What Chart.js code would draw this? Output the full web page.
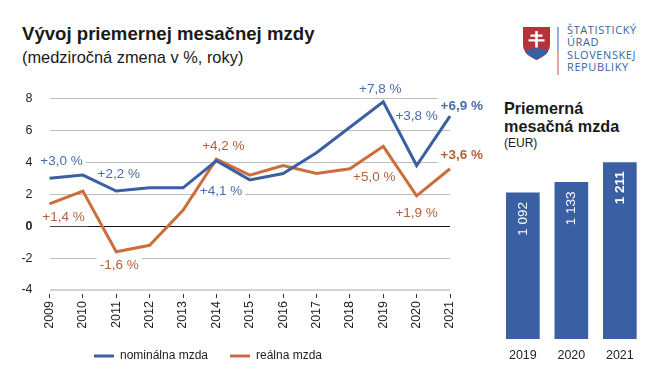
<!DOCTYPE html>
<html lang="sk">
<head>
<meta charset="utf-8">
<title>Vývoj priemernej mesačnej mzdy</title>
<script src="https://cdn.jsdelivr.net/npm/chart.js@4"></script>
<style>
    html, body { margin: 0; padding: 0; background: #fff; }
    body { width: 660px; height: 381px; position: relative; overflow: hidden; font-family: "Liberation Sans", Arial, sans-serif; color: #1a1a1a; }
    canvas { position: absolute; }
    #lineChart { left: 0; top: 80px; }
    #barChart { left: 490px; top: 150px; }
    .txt { position: absolute; white-space: nowrap; }
    #title { left: 22px; top: 23px; font-size: 18.6px; font-weight: bold; }
    #subtitle { left: 22px; top: 48px; font-size: 16.4px; }
    #barTitle { left: 504px; top: 99px; font-size: 16.2px; font-weight: bold; line-height: 18px; }
    #barUnit { left: 504px; top: 136px; font-size: 12px; }
    #logoText { left: 567px; top: 24px; font-family: "Open Sans", sans-serif; font-size: 11px; line-height: 12.4px; letter-spacing: 0.6px; color: #3b5f9f; }
    #logo { position: absolute; left: 522px; top: 26px; }
</style>
</head>
<body>
<div class="txt" id="title">Vývoj priemernej mesačnej mzdy</div>
<div class="txt" id="subtitle">(medziročná zmena v %, roky)</div>
<svg id="logo" width="40" height="52" viewBox="0 0 40 52">
    <path d="M1 1H28V19C28 27 20 31 14.5 34C9 31 1 27 1 19Z" fill="#b8303a"/>
    <path d="M3 26C5 23 8 22 10 23.5C12 20.5 17 20.5 19 23.5C21 22 24 23 26 26C23 30 18 32 14.5 34C11 32 6 30 3 26Z" fill="#3b5f9f"/>
    <path d="M13.2 5H15.8V8.5H20.5V10.8H15.8V13.2H22.5V15.6H15.8V21.5H13.2V15.6H6.5V13.2H13.2V10.8H8.5V8.5H13.2Z" fill="#fff"/>
    <rect x="35.5" y="1" width="1" height="24" fill="#3b5f9f"/>
    <rect x="35.5" y="25" width="1" height="24" fill="#c0504d"/>
</svg>
<div class="txt" id="logoText">ŠTATISTICKÝ<br>ÚRAD<br>SLOVENSKEJ<br>REPUBLIKY</div>
<div class="txt" id="barTitle">Priemerná<br>mesačná mzda</div>
<div class="txt" id="barUnit">(EUR)</div>
<canvas id="lineChart" width="490" height="296"></canvas>
<canvas id="barChart" width="170" height="220"></canvas>
<script>
const years = ["2009", "2010", "2011", "2012", "2013", "2014", "2015", "2016", "2017", "2018", "2019", "2020", "2021"];
const nominal = [3.0, 3.2, 2.2, 2.4, 2.4, 4.1, 2.9, 3.3, 4.6, 6.2, 7.8, 3.8, 6.9];
const real = [1.4, 2.2, -1.6, -1.2, 1.0, 4.2, 3.2, 3.8, 3.3, 3.6, 5.0, 1.9, 3.6];
const yTicks = [-4, -2, 0, 2, 4, 6, 8];

const barYears = ["2019", "2020", "2021"];
const barValues = [1092, 1133, 1211];
const barLabels = ["1 092", "1 133", "1 211"];

const BLUE = "#3a5fa3";
const ORANGE = "#cc6e3c";
const BLUE_TEXT = "#4a6ca8";
const ORANGE_TEXT = "#b4603c";
const FONT = '"Liberation Sans", Arial, sans-serif';

// dataset, year index, text, offset from the point, bold
const pointLabels = [
    [0, 0, "+3,0 %", 12, -17.5],
    [0, 2, "+2,2 %", 2.5, -16.3],
    [0, 5, "+4,1 %", 4.6, 31],
    [0, 10, "+7,8 %", -3, -12.6],
    [0, 11, "+3,8 %", 0, -49.3],
    [0, 12, "+6,9 %", 11.7, -10, true],
    [1, 0, "+1,4 %", 14, 13.4],
    [1, 2, "-1,6 %", 3, 14],
    [1, 5, "+4,2 %", 7, -13],
    [1, 10, "+5,0 %", -9, 31],
    [1, 11, "+1,9 %", 0, 17],
    [1, 12, "+3,6 %", 11.7, -13, true],
];

function labelFont(bold) {
    return (bold ? "bold 13.5px " : "13.5px ") + FONT;
}

const pointLabelPlugin = {
    id: "pointLabels",
    // white boxes cut the grid lines behind the labels, the lines stay on top
    beforeDatasetsDraw(chart) {
        const ctx = chart.ctx;
        ctx.save();
        ctx.fillStyle = "#fff";
        ctx.font = labelFont(false);
        pointLabels.forEach(([ds, i, text, dx, dy]) => {
            const p = chart.getDatasetMeta(ds).data[i];
            const w = ctx.measureText(text).width + 6;
            ctx.fillRect(p.x + dx - w / 2, p.y + dy - 9, w, 18);
        });
        ctx.restore();
    },
    afterDatasetsDraw(chart) {
        const ctx = chart.ctx;
        ctx.save();
        ctx.textAlign = "center";
        ctx.textBaseline = "middle";
        pointLabels.forEach(([ds, i, text, dx, dy, bold]) => {
            const p = chart.getDatasetMeta(ds).data[i];
            ctx.font = labelFont(bold);
            ctx.fillStyle = ds === 0 ? BLUE_TEXT : ORANGE_TEXT;
            ctx.fillText(text, p.x + dx, p.y + dy);
        });
        ctx.restore();
    },
    // legend sits left of the canvas centre
    afterLayout(chart) {
        chart.legend.left -= 17;
        chart.legend.right -= 17;
    },
};

new Chart(document.getElementById("lineChart"), {
    type: "line",
    data: {
        labels: years,
        datasets: [
            { label: "nominálna mzda", data: nominal, borderColor: BLUE, backgroundColor: BLUE, borderWidth: 3, pointRadius: 0, tension: 0 },
            { label: "reálna mzda", data: real, borderColor: ORANGE, backgroundColor: ORANGE, borderWidth: 3, pointRadius: 0, tension: 0 },
        ],
    },
    options: {
        responsive: false,
        animation: false,
        layout: { padding: { top: 18.5, right: 40, bottom: 4 } },
        plugins: {
            title: { display: false },
            tooltip: { enabled: false },
            legend: {
                position: "bottom",
                labels: {
                    boxWidth: 20,
                    boxHeight: 3,
                    padding: 22,
                    color: "#222",
                    font: { family: FONT, size: 12 },
                    generateLabels: (chart) =>
                        Chart.defaults.plugins.legend.labels.generateLabels(chart).map((l) => ({ ...l, lineWidth: 0 })),
                },
            },
        },
        scales: {
            x: {
                afterFit: (scale) => { scale.height = 38; },
                border: { display: false },
                grid: { drawOnChartArea: false, tickLength: 8, tickColor: "#333", tickBorderDash: [0, 4, 4, 10] },
                ticks: { color: "#222", font: { family: FONT, size: 12.5 }, minRotation: 90, maxRotation: 90, padding: 3, autoSkip: false },
            },
            y: {
                min: -4,
                max: 8,
                afterFit: (scale) => { scale.width = 49.5; scale.paddingTop = 0; scale.paddingBottom = 0; },
                afterBuildTicks: (scale) => { scale.ticks = yTicks.map((value) => ({ value })); },
                border: { display: false },
                grid: {
                    drawTicks: false,
                    color: (c) => (c.tick.value === 0 ? "#111" : c.tick.value === -4 ? "#d4d4d4" : "#bdbdbd"),
                    lineWidth: (c) => (c.tick.value === -4 ? 2 : 1),
                },
                ticks: {
                    color: "#222",
                    padding: 17,
                    font: (c) => ({ family: FONT, size: 12.5, weight: c.tick && c.tick.value === 0 ? "bold" : "normal" }),
                },
            },
        },
    },
    plugins: [pointLabelPlugin],
});

const barLabelPlugin = {
    id: "barLabels",
    afterDatasetsDraw(chart) {
        const ctx = chart.ctx;
        chart.getDatasetMeta(0).data.forEach((bar, i) => {
            ctx.save();
            ctx.translate(bar.x, bar.y + 9);
            ctx.rotate(-Math.PI / 2);
            ctx.textAlign = "right";
            ctx.textBaseline = "middle";
            ctx.fillStyle = "#fff";
            ctx.font = (i === barLabels.length - 1 ? "bold " : "") + "13.5px " + FONT;
            ctx.fillText(barLabels[i], 0, 0);
            ctx.restore();
        });
    },
};

new Chart(document.getElementById("barChart"), {
    type: "bar",
    data: {
        labels: barYears,
        datasets: [{ data: barValues, backgroundColor: "#3a5fa3", barThickness: 33 }],
    },
    options: {
        responsive: false,
        animation: false,
        layout: { padding: { top: 12.3, left: 8.6, right: 15.9 } },
        plugins: { legend: { display: false }, tooltip: { enabled: false } },
        scales: {
            x: {
                afterFit: (scale) => { scale.height = 31; },
                border: { display: false },
                grid: { display: false },
                ticks: { color: "#222", padding: 1, font: { family: FONT, size: 12.5 } },
            },
            y: { display: false, min: 525, max: 1211 },
        },
    },
    plugins: [barLabelPlugin],
});
</script>
</body>
</html>
